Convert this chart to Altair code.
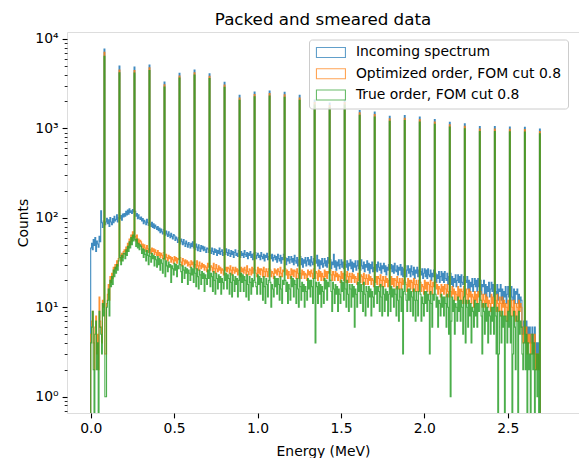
import altair as alt
import numpy as np
import pandas as pd

SERIES = ["Incoming spectrum", "Optimized order, FOM cut 0.8", "True order, FOM cut 0.8"]
COLORS = ["#1f77b4", "#ff7f0e", "#2ca02c"]
BIN_WIDTH = 0.005  # MeV; bins from 0.000 to 2.700

# line energies (MeV) and peak heights
PEAK_E = [0.08, 0.17, 0.26, 0.35, 0.44, 0.53, 0.62, 0.71, 0.80, 0.89,
          0.98, 1.07, 1.16, 1.25, 1.34, 1.43, 1.52, 1.61, 1.70, 1.79,
          1.88, 1.97, 2.06, 2.15, 2.24, 2.33, 2.42, 2.51, 2.60, 2.69]
PEAK_INCOMING = [7730, 4990, 4860, 5120, 3300, 4130, 4500, 4090, 3280, 2345,
                 2550, 2620, 2535, 2345, 2080, 1920, 2080, 1585, 1525, 1365,
                 1390, 1340, 1260, 1170, 1125, 1050, 1050, 1035, 1030, 985]
PEAK_OPTIMIZED = [7100, 4500, 4450, 4750, 3080, 3860, 4200, 3820, 3060, 2190,
                  2390, 2450, 2370, 2190, 1950, 1800, 1950, 1490, 1430, 1280,
                  1300, 1260, 1180, 1100, 1055, 985, 985, 975, 970, 925]
PEAK_TRUE = [6400, 4200, 4150, 4450, 2900, 3650, 3950, 3600, 2880, 2060,
             2250, 2300, 2230, 2060, 1830, 1700, 1830, 1400, 1340, 1200,
             1225, 1180, 1110, 1035, 990, 925, 925, 915, 910, 870]

# continuum counts per 0.005 MeV bin (one row = 0.1 MeV)
CONT_INCOMING = [
    46, 52, 44, 57, 49, 60, 42, 55, 51, 47, 62, 54, 120, 88, 78, 92, 96, 84, 90, 99,
    86, 95, 80, 101, 90, 84, 98, 88, 104, 92, 96, 108, 90, 100, 112, 98, 106, 94, 110, 102,
    112, 104, 118, 108, 122, 110, 126, 115, 120, 112, 124, 116, 108, 118, 104, 112, 98, 108, 100, 96,
    102, 92, 98, 86, 94, 90, 84, 96, 88, 82, 92, 85, 80, 89, 78, 86, 76, 83, 79, 74,
    80, 72, 77, 68, 75, 70, 66, 74, 69, 64, 71, 66, 62, 70, 64, 60, 67, 62, 58, 65,
    63, 56, 61, 58, 53, 60, 55, 51, 58, 54, 50, 57, 52, 48, 55, 51, 47, 53, 50, 46,
    52, 48, 54, 46, 50, 44, 51, 47, 43, 50, 46, 42, 49, 45, 48, 43, 47, 44, 41, 46,
    45, 41, 47, 43, 40, 46, 42, 39, 45, 41, 44, 38, 43, 40, 46, 39, 42, 44, 38, 41,
    43, 39, 45, 41, 38, 44, 40, 37, 43, 39, 42, 36, 41, 44, 38, 40, 37, 43, 39, 36,
    42, 38, 40, 36, 43, 39, 37, 41, 35, 40, 38, 42, 36, 39, 34, 40, 37, 41, 35, 38,
    40, 36, 38, 34, 41, 37, 35, 39, 33, 38, 36, 40, 34, 37, 32, 38, 35, 39, 33, 36,
    38, 34, 37, 32, 39, 35, 33, 38, 31, 36, 34, 39, 32, 36, 30, 35, 33, 37, 31, 34,
    37, 32, 35, 30, 38, 33, 31, 36, 29, 34, 32, 37, 30, 35, 28, 34, 31, 36, 29, 33,
    36, 30, 34, 29, 37, 32, 30, 35, 28, 33, 31, 38, 29, 34, 27, 33, 30, 35, 28, 31,
    35, 29, 33, 28, 36, 31, 29, 34, 27, 32, 30, 39, 28, 33, 26, 32, 29, 34, 27, 30,
    34, 28, 32, 27, 35, 30, 28, 33, 26, 31, 29, 34, 27, 32, 25, 31, 28, 33, 26, 29,
    33, 27, 31, 26, 34, 29, 27, 32, 25, 30, 28, 33, 26, 31, 24, 30, 27, 32, 25, 28,
    32, 26, 30, 25, 32, 28, 26, 31, 24, 29, 27, 31, 25, 29, 23, 28, 26, 30, 24, 27,
    30, 25, 29, 24, 31, 26, 25, 29, 23, 28, 26, 30, 23, 28, 22, 27, 24, 29, 22, 26,
    29, 24, 27, 22, 29, 25, 23, 28, 21, 26, 24, 28, 22, 26, 20, 25, 23, 27, 21, 24,
    27, 22, 26, 21, 27, 23, 22, 26, 20, 24, 22, 26, 20, 24, 19, 23, 21, 25, 19, 22,
    25, 20, 24, 19, 25, 21, 20, 24, 18, 22, 20, 24, 18, 22, 17, 21, 19, 23, 17, 20,
    23, 19, 22, 17, 23, 19, 18, 22, 16, 20, 19, 22, 16, 20, 15, 19, 17, 21, 15, 18,
    21, 17, 20, 15, 21, 17, 16, 20, 14, 18, 17, 20, 14, 18, 13, 17, 15, 19, 13, 16,
    19, 15, 18, 13, 19, 15, 14, 18, 12, 16, 15, 18, 12, 16, 11, 15, 13, 17, 11, 14,
    17, 13, 16, 12, 17, 13, 12, 16, 11, 15, 14, 16, 11, 14, 10, 13, 12, 6, 5, 7,
    6, 5, 7, 4, 6, 5, 6, 4, 5, 6, 4, 5, 6, 3, 4, 3, 4, 2, 3, 0,
]
CONT_OPTIMIZED = [
    5, 7, 9, 4, 2, 6, 8, 3, 5, 2, 13, 7, 6, 4, 12, 10, 8, 3, 3, 11,
    14, 18, 12, 22, 19, 24, 21, 28, 25, 30, 27, 33, 29, 35, 31, 38, 33, 40, 36, 42,
    44, 39, 47, 42, 52, 46, 58, 50, 64, 55, 70, 60, 58, 62, 55, 64, 52, 58, 50, 56,
    54, 47, 51, 44, 50, 46, 42, 49, 45, 41, 48, 44, 40, 46, 42, 45, 39, 44, 41, 38,
    43, 38, 41, 36, 40, 38, 35, 41, 37, 34, 39, 36, 33, 38, 35, 37, 32, 36, 34, 31,
    37, 33, 36, 31, 35, 34, 30, 36, 32, 29, 35, 33, 30, 34, 31, 33, 29, 32, 30, 28,
    33, 30, 32, 28, 31, 30, 27, 33, 29, 26, 32, 29, 27, 31, 28, 30, 26, 29, 28, 25,
    31, 28, 30, 26, 29, 28, 25, 31, 27, 24, 30, 27, 25, 29, 26, 28, 24, 27, 26, 23,
    29, 26, 28, 25, 28, 27, 24, 29, 26, 23, 28, 26, 24, 28, 25, 27, 23, 26, 25, 22,
    28, 25, 27, 24, 28, 26, 23, 29, 25, 23, 27, 26, 23, 28, 24, 27, 22, 26, 24, 22,
    28, 24, 27, 23, 27, 26, 22, 28, 25, 22, 27, 25, 22, 27, 24, 26, 22, 25, 24, 21,
    27, 24, 26, 23, 27, 25, 22, 28, 24, 22, 26, 25, 21, 27, 23, 26, 21, 25, 23, 21,
    27, 23, 26, 22, 26, 25, 21, 27, 24, 21, 26, 24, 21, 26, 23, 25, 21, 24, 23, 20,
    26, 23, 25, 22, 26, 24, 21, 27, 23, 21, 25, 24, 20, 26, 22, 25, 20, 24, 22, 20,
    26, 22, 25, 21, 25, 24, 20, 26, 23, 20, 25, 23, 20, 25, 22, 24, 20, 23, 22, 19,
    25, 21, 24, 20, 24, 23, 19, 25, 22, 19, 24, 22, 19, 24, 21, 23, 19, 22, 21, 18,
    24, 20, 23, 19, 23, 22, 18, 24, 21, 18, 23, 21, 18, 23, 20, 22, 18, 21, 20, 17,
    23, 19, 22, 18, 22, 21, 17, 23, 20, 17, 22, 20, 17, 22, 19, 21, 17, 20, 19, 16,
    22, 18, 21, 17, 21, 20, 16, 22, 19, 16, 21, 19, 16, 21, 18, 20, 16, 19, 18, 15,
    21, 17, 20, 16, 20, 19, 15, 21, 18, 15, 20, 18, 15, 20, 17, 19, 15, 18, 17, 14,
    20, 16, 19, 15, 19, 18, 14, 20, 17, 14, 19, 17, 14, 19, 16, 18, 14, 17, 16, 13,
    18, 15, 17, 14, 18, 16, 13, 18, 15, 13, 17, 15, 13, 17, 14, 16, 12, 15, 14, 12,
    17, 13, 16, 12, 16, 15, 11, 17, 14, 11, 16, 14, 11, 16, 13, 15, 11, 14, 13, 10,
    15, 12, 14, 11, 15, 13, 10, 15, 12, 10, 14, 12, 10, 14, 11, 13, 10, 12, 11, 9,
    14, 11, 13, 10, 14, 12, 9, 14, 11, 9, 13, 11, 8, 13, 10, 12, 8, 11, 10, 7,
    12, 9, 11, 8, 12, 10, 8, 12, 9, 7, 11, 10, 7, 12, 9, 11, 10, 5, 4, 6,
    5, 4, 6, 3, 5, 4, 5, 3, 4, 5, 3, 4, 5, 2, 3, 2, 3, 2, 2, 0,
]
CONT_TRUE = [
    4, 6, 9, 2, 0, 5, 7, 2, 4, 0, 9, 6, 5, 3, 11, 8, 7, 1, 1, 10,
    12, 16, 8, 20, 17, 22, 18, 26, 22, 28, 24, 30, 26, 33, 28, 36, 30, 38, 33, 40,
    40, 35, 44, 38, 48, 42, 54, 46, 60, 50, 64, 55, 52, 57, 48, 58, 46, 52, 44, 50,
    48, 40, 45, 36, 44, 39, 33, 43, 38, 30, 41, 37, 32, 40, 35, 38, 29, 37, 34, 28,
    37, 30, 35, 26, 34, 31, 24, 35, 30, 22, 33, 29, 25, 32, 28, 30, 19, 29, 27, 23,
    31, 26, 30, 22, 29, 27, 20, 30, 25, 19, 29, 26, 21, 28, 24, 27, 18, 26, 24, 20,
    28, 23, 27, 19, 26, 24, 17, 27, 22, 16, 26, 23, 18, 25, 21, 24, 15, 23, 21, 18,
    26, 21, 25, 17, 24, 22, 15, 25, 20, 14, 24, 21, 16, 23, 19, 22, 14, 21, 19, 16,
    25, 20, 24, 16, 23, 21, 14, 24, 19, 13, 23, 20, 15, 22, 18, 21, 13, 20, 18, 15,
    24, 19, 23, 15, 22, 20, 13, 23, 18, 12, 22, 19, 14, 21, 17, 20, 12, 19, 17, 14,
    23, 18, 22, 14, 21, 19, 12, 22, 17, 11, 21, 18, 13, 20, 16, 19, 10, 18, 16, 13,
    22, 17, 21, 14, 21, 18, 12, 22, 16, 11, 20, 18, 12, 20, 15, 19, 11, 18, 16, 12,
    22, 17, 21, 13, 20, 18, 11, 21, 16, 10, 20, 17, 12, 19, 15, 18, 10, 17, 15, 12,
    21, 16, 20, 13, 20, 17, 11, 21, 15, 4, 19, 17, 11, 19, 14, 18, 10, 17, 15, 11,
    21, 16, 20, 12, 19, 17, 10, 20, 15, 9, 19, 16, 11, 18, 14, 17, 9, 16, 14, 11,
    20, 15, 19, 12, 19, 16, 10, 20, 14, 9, 18, 16, 10, 18, 13, 17, 6, 16, 14, 10,
    19, 15, 18, 11, 18, 15, 9, 19, 14, 8, 17, 15, 10, 17, 13, 16, 8, 15, 13, 10,
    18, 14, 17, 11, 17, 15, 9, 18, 13, 8, 17, 14, 9, 16, 12, 15, 8, 14, 12, 9,
    17, 13, 16, 10, 16, 14, 8, 17, 12, 7, 16, 13, 9, 16, 3, 15, 7, 14, 12, 9,
    16, 12, 16, 9, 15, 13, 8, 16, 12, 7, 15, 12, 8, 15, 11, 14, 7, 13, 11, 8,
    15, 11, 15, 9, 14, 12, 3, 15, 11, 6, 14, 12, 8, 14, 10, 13, 6, 12, 11, 8,
    14, 10, 13, 8, 13, 11, 6, 14, 10, 5, 13, 1, 7, 13, 9, 12, 5, 11, 10, 7,
    13, 9, 12, 7, 12, 10, 5, 13, 9, 4, 12, 10, 6, 12, 8, 11, 4, 10, 9, 6,
    12, 8, 11, 6, 11, 9, 4, 12, 8, 3, 11, 9, 5, 11, 7, 10, 4, 9, 8, 5,
    10, 7, 10, 5, 9, 8, 3, 10, 0, 3, 9, 8, 4, 9, 6, 8, 0, 8, 7, 4,
    9, 6, 8, 4, 8, 0, 3, 9, 6, 2, 8, 7, 0, 9, 5, 7, 6, 3, 2, 4,
    4, 2, 5, 0, 4, 2, 3, 0, 3, 5, 2, 4, 0, 2, 3, 1, 3, 0, 2, 0,
]

CONTS = [CONT_INCOMING, CONT_OPTIMIZED, CONT_TRUE]
PEAKS = [PEAK_INCOMING, PEAK_OPTIMIZED, PEAK_TRUE]
FLOOR = 0.1  # empty bins drawn below the log axis (clipped)

rows = []
for name, cont, peaks in zip(SERIES, CONTS, PEAKS):
    counts = list(cont)
    for e, h in zip(PEAK_E, peaks):
        counts[int(round(e / BIN_WIDTH))] = h
    counts = [max(c, FLOOR) for c in counts]
    n = len(counts)
    edges = np.round(np.arange(n + 1) * BIN_WIDTH, 4)
    pts = [(edges[0], FLOOR)]
    pts += [(edges[i], counts[i]) for i in range(n)]
    pts += [(edges[n], counts[-1]), (edges[n], FLOOR)]
    for k, (x, y) in enumerate(pts):
        rows.append({"series": name, "idx": k, "energy": float(x), "counts": float(y)})
df = pd.DataFrame(rows)

y_ticks = [m * 10 ** d for d in range(-1, 5) for m in range(1, 10)]
y_ticks = [v for v in y_ticks if 0.66 <= v <= 11900]

FONT = "DejaVu Sans"
major_test = "abs(log(datum.value)/LN10 - round(log(datum.value)/LN10)) < 0.001"

x_enc = alt.X("energy:Q",
              scale=alt.Scale(domain=[-0.142, 2.927], nice=False, zero=False),
              axis=alt.Axis(values=[0, 0.5, 1.0, 1.5, 2.0, 2.5], format=".1f",
                            title="Energy (MeV)", titleFont=FONT, titleFontSize=13.9,
                            titleFontWeight="normal", titleColor="black",
                            titleBaseline="alphabetic", titleY=42,
                            labelFont=FONT, labelFontSize=13.9, labelColor="black",
                            labelPadding=4, labelFlush=False,
                            tickSize=4.9, tickWidth=1.1, tickColor="black",
                            domain=False, grid=False))
y_enc = alt.Y("counts:Q",
              scale=alt.Scale(type="log", domain=[0.657, 11970], nice=False),
              axis=alt.Axis(values=y_ticks,
                            labelExpr="(" + major_test + ") ? '10' + ['⁰','¹','²','³','⁴'][round(log(datum.value)/LN10)] : ''",
                            labelOverlap=False, labelFont=FONT, labelFontSize=13.9,
                            labelColor="black", labelPadding=4,
                            tickSize={"condition": {"test": major_test, "value": 4.9}, "value": 2.8},
                            tickWidth={"condition": {"test": major_test, "value": 1.1}, "value": 0.85},
                            tickColor="black",
                            title="Counts", titleFont=FONT, titleFontSize=13.9,
                            titleFontWeight="normal", titleColor="black",
                            titleBaseline="alphabetic", titleX=-40, titleY=190.5,
                            domain=False, grid=False))
color_enc = alt.Color("series:N",
                      scale=alt.Scale(domain=SERIES, range=COLORS),
                      legend=alt.Legend(orient="none", legendX=242, legendY=7.5, title=None,
                                        symbolType="M-2.9,-1L2.9,-1L2.9,1L-2.9,1Z",
                                        symbolSize=100, symbolStrokeWidth=1.1,
                                        symbolFillColor="transparent", symbolOpacity=0.7,
                                        symbolOffset=9,
                                        labelFont=FONT, labelFontSize=13.9, labelColor="black",
                                        labelOffset=18, labelLimit=400, rowPadding=5.3, padding=6,
                                        fillColor="rgba(255,255,255,0.8)",
                                        strokeColor="#cccccc", cornerRadius=3))

layers = []
for name in SERIES:
    layers.append(
        alt.Chart(df).transform_filter(alt.datum.series == name)
        .mark_line(interpolate="step-after", strokeWidth=1.1, opacity=0.85, clip=True)
        .encode(x=x_enc, y=y_enc, color=color_enc, order="idx:Q")
    )

chart = alt.layer(*layers).properties(
    width=512, height=381,
    title=alt.TitleParams("Packed and smeared data", font=FONT, fontSize=16.7,
                          fontWeight="normal", color="black", anchor="middle",
                          baseline="alphabetic", offset=8, frame="group", dy=18),
    autosize=alt.AutoSizeParams(type="none"),
    padding={"left": 67, "top": 32, "right": 0, "bottom": 45},
).configure_view(stroke="#222222", strokeWidth=1.1).configure(background="white")

chart.save("out.html", embed_options={"renderer": "svg", "actions": False})
